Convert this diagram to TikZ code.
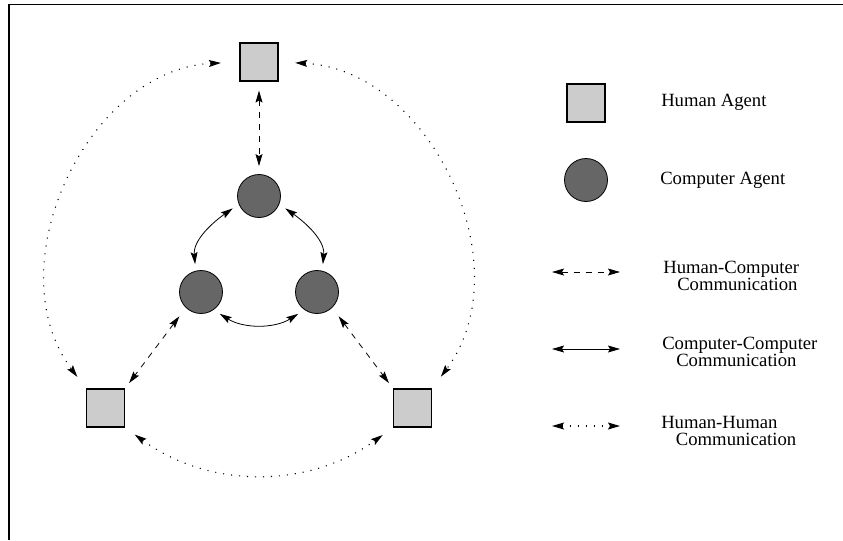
\documentclass[tikz,border=0pt]{standalone}
\usepackage{fontspec}
\setmainfont{Liberation Serif}
\usetikzlibrary{arrows.meta}

\begin{document}
\begin{tikzpicture}[x=0.75pt,y=0.75pt,
    >={Stealth[length=9pt,width=5.2pt,inset=1.5pt]},
    human/.style={draw=black,fill=black!20,line width=0.8pt,minimum size=28.5pt,inner sep=0pt},
    computer/.style={circle,draw=black,fill=black!60,line width=0.6pt,minimum size=32.25pt,inner sep=0pt},
    hc/.style={<->,line width=0.6pt,dash pattern=on 4.5pt off 4.5pt},
    cc/.style={<->,line width=0.6pt},
    hh/.style={<->,line width=0.8pt,dash pattern=on 0.8pt off 5.2pt},
    lbl/.style={anchor=west,inner sep=0pt,align=left,font=\fontsize{14}{12.75}\selectfont}]
        \useasboundingbox (0,0) rectangle (843,-540);
        % Frame
        \draw[line width=0.8pt] (843,-4.5) -- (9,-4.5) -- (9,-540);
        % Agents
        \node[human] (tophum) at (259,-62) {};
        \node[human] (blhum) at (105.5,-408) {};
        \node[human] (brhum) at (412.5,-408) {};
        \node[computer] (tcomp) at (259,-196) {};
        \node[computer] (lcomp) at (201,-292) {};
        \node[computer] (rcomp) at (317,-292) {};
        % Human-Computer links
        \draw[hc,shorten <=6.75pt,shorten >=6pt] (tophum.south) -- (tcomp.north);
        \draw[hc,shorten <=8pt,shorten >=5pt] (lcomp.226) -- (blhum.north east);
        \draw[hc,shorten <=8pt,shorten >=5pt] (rcomp.314) -- (brhum.north west);
        % Computer-Computer links
        \draw[cc,shorten <=5.5pt,shorten >=5pt] (tcomp.202) to[out=215,in=95] (lcomp.104);
        \draw[cc,shorten <=5.5pt,shorten >=5pt] (tcomp.338) to[out=-35,in=85] (rcomp.76);
        \draw[cc,shorten <=5.5pt,shorten >=5.5pt] (lcomp.305) to[out=-32,in=212] (rcomp.235);
        % Human-Human links
        \draw[hh,bend right=62,looseness=1.08,shorten <=13.9pt,shorten >=10.8pt] (tophum.west) to (blhum.north west);
        \draw[hh,bend left=62,looseness=1.08,shorten <=12.5pt,shorten >=11pt] (tophum.east) to (brhum.north east);
        \draw[hh,bend right=36,shorten <=9pt,shorten >=9.5pt] (blhum.south east) to (brhum.south west);
        % Legend
        \node[human] (keyhum) at (586,-103) {};
        \node[computer] (keycomp) at (586,-180) {};
        \node[lbl] (keyhumtxt) at (661,-102) {Human Agent};
        \node[lbl] (keycomptxt) at (660,-180) {Computer Agent};
        \coordinate (hcA) at (552,-272);
        \coordinate (hcB) at (620,-272);
        \coordinate (ccA) at (552,-349);
        \coordinate (ccB) at (620,-349);
        \coordinate (hhA) at (552,-426);
        \coordinate (hhB) at (620,-426);
        \draw[hc] (hcA) -- (hcB);
        \draw[cc] (ccA) -- (ccB);
        \draw[hh] (hhA) -- (hhB);
        \node[lbl] (hctxt) at (663,-275.5) {Human-Computer\\\hspace{10.5pt}Communication};
        \node[lbl] (cctxt) at (662,-352) {Computer-Computer\\\hspace{10.5pt}Communication};
        \node[lbl] (hhtxt) at (661,-430.5) {Human-Human\\\hspace{11pt}Communication};
\end{tikzpicture}
\end{document}
